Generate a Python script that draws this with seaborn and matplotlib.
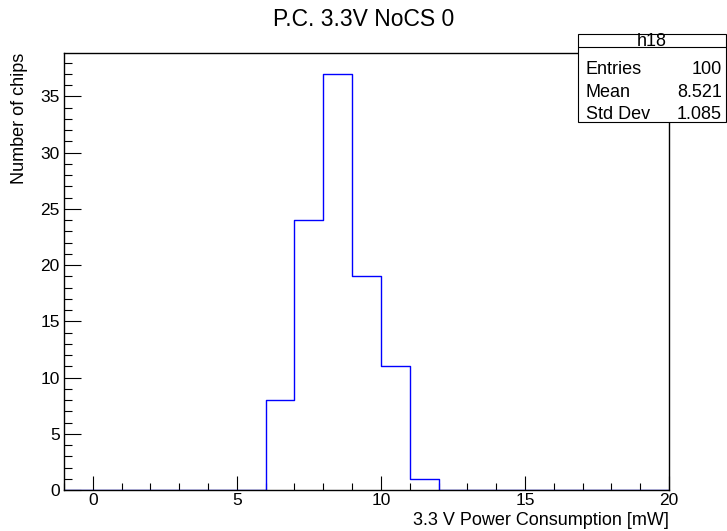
import numpy as np
import pandas as pd
import seaborn as sns
import matplotlib.pyplot as plt
from matplotlib.ticker import MultipleLocator
from matplotlib.patches import Rectangle
from matplotlib.lines import Line2D

# histogram content (bin centres / counts)
bin_edges = list(range(-1, 21))
bin_centers = [6.5, 7.5, 8.5, 9.5, 10.5, 11.5]
counts = [8, 24, 37, 19, 11, 1]

stats_labels = ["Entries", "Mean", "Std Dev"]
stats_values = ["100", "8.521", "1.085"]

sns.set_theme(style="ticks")
plt.rcParams['font.family'] = ['Liberation Sans', 'DejaVu Sans']
plt.rcParams['text.color'] = 'black'
plt.rcParams['axes.labelcolor'] = 'black'

W, H = 727, 531
fig = plt.figure(figsize=(W / 100, H / 100), dpi=100)
ax = fig.add_axes([64 / W, 1 - 490 / H, (669 - 64) / W, (490 - 53) / H])

df = pd.DataFrame({'x': bin_centers, 'n': counts})
sns.histplot(data=df, x='x', weights='n', bins=bin_edges, element='step',
             fill=False, color='#0000ff', linewidth=1.0, ax=ax)

ax.set_xlim(-1, 20)
ax.set_ylim(0, 38.85)
ax.xaxis.set_major_locator(MultipleLocator(5))
ax.xaxis.set_minor_locator(MultipleLocator(1))
ax.yaxis.set_major_locator(MultipleLocator(5))
ax.yaxis.set_minor_locator(MultipleLocator(1))

for s in ax.spines.values():
    s.set_visible(True)
    s.set_color('black')
    s.set_linewidth(1.0)

ax.tick_params(axis='x', which='major', direction='in', length=10, width=0.8,
               labelsize=12.5, pad=2, colors='black')
ax.tick_params(axis='x', which='minor', direction='in', length=5, width=0.8, colors='black')
ax.tick_params(axis='y', which='major', direction='in', length=12.5, width=0.8,
               labelsize=12.5, pad=3, colors='black')
ax.tick_params(axis='y', which='minor', direction='in', length=6, width=0.8, colors='black')

ax.set_xlabel("3.3 V Power Consumption [mW]", fontsize=13, loc='right', color='black')
ax.xaxis.set_label_coords(1.0, (490 - 525) / (490 - 53))
ax.xaxis.label.set_va('baseline')
ax.set_ylabel("")
fig.text(24 / W, 1 - 53 / H, "Number of chips", rotation=90, rotation_mode='anchor',
         ha='right', va='baseline', fontsize=13, color='black')

fig.text(0.5, 1 - 26 / H, "P.C. 3.3V NoCS 0", ha='center', va='baseline',
         fontsize=16.5, color='black')

# stats box
bx0, bx1, by0, by1, bsep = 578, 726, 34, 122, 47
fig.patches.append(Rectangle((bx0 / W, 1 - by1 / H), (bx1 - bx0) / W, (by1 - by0) / H,
                             transform=fig.transFigure, facecolor='white',
                             edgecolor='black', linewidth=0.8, zorder=5))
fig.lines.append(Line2D([bx0 / W, bx1 / W], [1 - bsep / H, 1 - bsep / H],
                        transform=fig.transFigure, color='black', linewidth=0.8, zorder=6))
fig.text((bx0 + bx1) / 2 / W, 1 - 45.5 / H, "h18", ha='center', va='baseline',
         fontsize=13, color='black', zorder=7)
for i, (lab, val) in enumerate(zip(stats_labels, stats_values)):
    yb = 1 - (74.5 + 22.4 * i) / H
    fig.text(585.5 / W, yb, lab, ha='left', va='baseline', fontsize=13, color='black', zorder=7)
    fig.text(722 / W, yb, val, ha='right', va='baseline', fontsize=13, color='black', zorder=7)

fig.savefig("out.png", dpi=100)
